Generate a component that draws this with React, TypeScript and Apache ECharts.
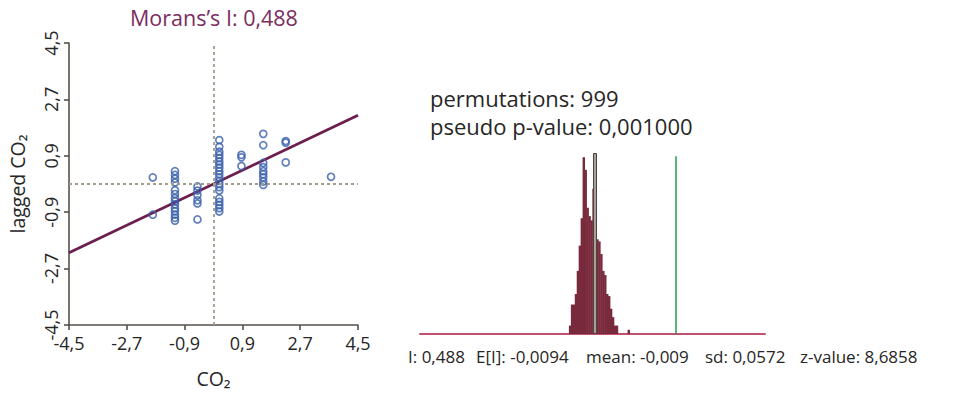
import React, { useEffect, useRef } from 'react';
import * as echarts from 'echarts';

const FONT = '"Open Sans", "Noto Sans", sans-serif';

// ---- Moran scatter plot data ----
const axisTicks = [-4.5, -2.7, -0.9, 0.9, 2.7, 4.5];
const moranPoints: [number, number][] = [
  [-1.89, 0.21], [-1.89, -0.98],
  [-1.2, 0.41], [-1.2, 0.29], [-1.2, 0.17], [-1.2, 0.05], [-1.2, -0.2], [-1.2, -0.32], [-1.2, -0.45],
  [-1.2, -0.55], [-1.2, -0.65], [-1.2, -0.77], [-1.2, -0.87], [-1.2, -0.98], [-1.2, -1.08], [-1.2, -1.17],
  [-0.5, -0.08], [-0.5, -0.21], [-0.5, -0.36], [-0.5, -0.52], [-0.5, -0.62], [-0.5, -1.13],
  [0.18, 1.4], [0.18, 1.19], [0.18, 1.03], [0.18, 0.93], [0.18, 0.83], [0.18, 0.72], [0.18, 0.62],
  [0.18, 0.52], [0.18, 0.41], [0.18, 0.31], [0.18, 0.21], [0.18, 0.1], [0.18, 0.0], [0.18, -0.1],
  [0.18, -0.21], [0.18, -0.46], [0.18, -0.57], [0.18, -0.67], [0.18, -0.77], [0.18, -0.88],
  [0.87, 0.93], [0.87, 0.85], [0.87, 0.57],
  [1.55, 1.6], [1.55, 1.24], [1.55, 0.67], [1.55, 0.54], [1.55, 0.41], [1.55, 0.31], [1.55, 0.21],
  [1.55, 0.08], [1.55, -0.03],
  [2.25, 1.37], [2.25, 1.32], [2.25, 0.69],
  [3.66, 0.23],
];
const regressionLine: [number, number][] = [[-4.5, -2.196], [4.5, 2.196]];
const meanCO2 = 0;
const meanLagged = 0;

// ---- Permutation histogram data ----
const histBinCenters = [
  -0.162, -0.15, -0.138, -0.126, -0.114, -0.102, -0.09, -0.078, -0.066, -0.054, -0.042, -0.03, -0.018,
  -0.006, 0.006, 0.018, 0.03, 0.042, 0.054, 0.066, 0.078, 0.09, 0.102, 0.114, 0.126, 0.198,
];
const histCounts = [
  4, 14, 14, 19, 30, 42, 55, 84, 78, 60, 56, 54, 69, 61, 45, 44, 38, 30, 28, 19, 18, 12, 8, 4, 4, 2,
];
const moransI = 0.488;
const expectedI = -0.0094;
const permMean = -0.009;
const permSd = 0.0572;
const zValue = 8.6858;
const permutations = 999;
const pseudoP = 0.001;
const observedLineHeight = 84.5;
const meanBarHeight = 86;

const comma = (s: string) => s.replace('.', ',');
const fmtTick = (v: number) => comma((Math.round(v * 10) / 10).toFixed(1));

export default function App() {
  const ref = useRef<HTMLDivElement>(null);

  useEffect(() => {
    if (!ref.current) return;
    const chart = echarts.init(ref.current, undefined, { renderer: 'svg' });

    const axisColor = '#57504a';
    const labelColor = '#262626';

    const scatterAxisCommon = {
      type: 'value' as const,
      min: -4.5,
      max: 4.5,
      splitLine: { show: false },
      axisLine: { show: true, onZero: false, lineStyle: { color: axisColor, width: 1.6 } },
      axisTick: { show: true, length: 5, customValues: axisTicks, lineStyle: { color: axisColor, width: 1.6 } },
      axisLabel: {
        customValues: axisTicks,
        formatter: (v: number) => fmtTick(v),
        color: labelColor,
        fontFamily: FONT,
        fontSize: 18,
        margin: 9,
      },
      nameLocation: 'middle' as const,
      nameTextStyle: { color: labelColor, fontFamily: FONT, fontSize: 19.5 },
    };

    const textStyle = (size: number) => `${size}px ${FONT}`;

    const option: any = {
      animation: false,
      backgroundColor: '#ffffff',
      grid: [
        { left: 69, right: 607, top: 43, bottom: 59 },
        { left: 420, right: 200, top: 153, bottom: 59 },
      ],
      xAxis: [
        { ...scatterAxisCommon, gridIndex: 0, name: 'CO₂', nameGap: 43 },
        {
          type: 'value', gridIndex: 1, min: -1.083, max: 1.034,
          axisLine: { show: true, onZero: false, lineStyle: { color: '#c4506f', width: 2 } },
          axisTick: { show: false }, axisLabel: { show: false }, splitLine: { show: false },
        },
        {
          type: 'value', gridIndex: 1, min: -1.083, max: 1.034, show: false,
        },
      ],
      yAxis: [
        {
          ...scatterAxisCommon,
          gridIndex: 0,
          name: 'lagged CO₂',
          nameGap: 42,
          axisLabel: { ...scatterAxisCommon.axisLabel, rotate: 90, margin: 9 },
        },
        { type: 'value', gridIndex: 1, min: 0, max: 86, show: false },
      ],
      graphic: [
        {
          type: 'text', left: 130, top: 6,
          style: { text: 'Morans’s I: ' + comma(String(moransI)), fill: '#7a2d5e', font: textStyle(21.5) },
        },
        {
          type: 'text', left: 430, top: 87,
          style: { text: 'permutations: ' + permutations, fill: '#262626', font: textStyle(22) },
        },
        {
          type: 'text', left: 430, top: 115,
          style: { text: 'pseudo p-value: ' + comma(pseudoP.toFixed(6)), fill: '#262626', font: textStyle(22) },
        },
        { type: 'text', left: 408, top: 348, style: { text: 'I: ' + comma(String(moransI)), fill: '#262626', font: textStyle(17) } },
        { type: 'text', left: 476, top: 348, style: { text: 'E[I]: ' + comma(String(expectedI)), fill: '#262626', font: textStyle(17) } },
        { type: 'text', left: 586, top: 348, style: { text: 'mean: ' + comma(String(permMean)), fill: '#262626', font: textStyle(17) } },
        { type: 'text', left: 705, top: 348, style: { text: 'sd: ' + comma(String(permSd)), fill: '#262626', font: textStyle(17) } },
        { type: 'text', left: 800, top: 348, style: { text: 'z-value: ' + comma(String(zValue)), fill: '#262626', font: textStyle(17) } },
      ],
      series: [
        {
          type: 'line',
          xAxisIndex: 0, yAxisIndex: 0,
          data: regressionLine,
          symbol: 'none',
          lineStyle: { color: '#6c1e4f', width: 2.8 },
          z: 3,
          markLine: {
            silent: true,
            symbol: ['none', 'none'],
            label: { show: false },
            lineStyle: { color: '#a39b8b', type: [3, 3], width: 1.8 },
            data: [{ xAxis: meanCO2 }, { yAxis: meanLagged }],
          },
        },
        {
          type: 'scatter',
          xAxisIndex: 0, yAxisIndex: 0,
          data: moranPoints,
          symbol: 'circle',
          symbolSize: 7,
          itemStyle: { color: 'rgba(255,255,255,0)', borderColor: '#3a5fab', borderWidth: 1.7 },
          z: 4,
        },
        {
          type: 'bar',
          xAxisIndex: 1, yAxisIndex: 1,
          data: histBinCenters.map((c, i) => [c, histCounts[i]]),
          barWidth: 2.4,
          itemStyle: { color: '#7a2a3d', borderWidth: 0 },
        },
        {
          type: 'bar',
          xAxisIndex: 2, yAxisIndex: 1,
          data: [[permMean, meanBarHeight]],
          barWidth: 4,
          itemStyle: { color: '#a7a298', borderColor: '#4b4540', borderWidth: 1 },
          z: 5,
        },
        {
          type: 'line',
          xAxisIndex: 1, yAxisIndex: 1,
          data: [[moransI, 0], [moransI, observedLineHeight]],
          symbol: 'none',
          lineStyle: { color: '#1e9e4e', width: 1.5 },
        },
      ],
    };

    chart.setOption(option);
    return () => chart.dispose();
  }, []);

  return (
    <div
      ref={ref}
      style={{ position: 'fixed', left: 0, top: 0, width: 965, height: 393, background: '#fff' }}
    />
  );
}
